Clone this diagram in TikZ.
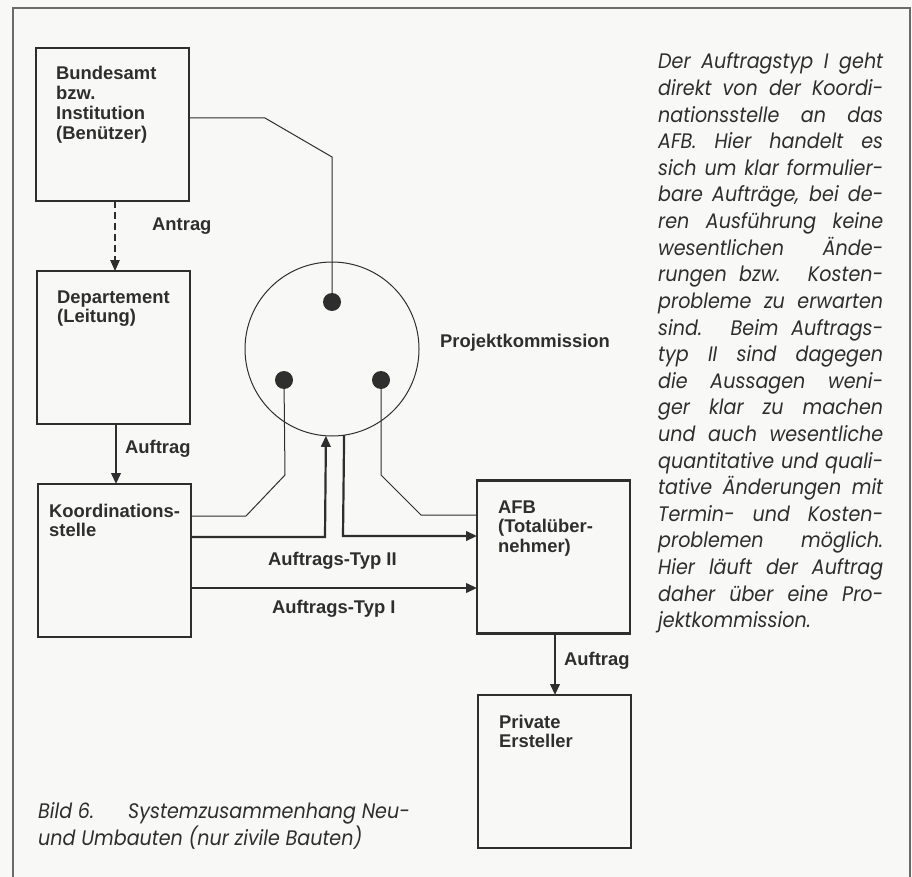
\documentclass[tikz,border=0pt]{standalone}
\usepackage{fontspec}
\setmainfont{Liberation Sans}
\newfontfamily\fut{Poppins}[FakeStretch=0.91]
\usetikzlibrary{arrows.meta}
\definecolor{ink}{HTML}{2E2E2E}
\definecolor{bg}{HTML}{F8F8F7}
\definecolor{frm}{HTML}{6A6A6A}
\begin{document}
\begin{tikzpicture}[x=1pt,y=-1pt,
  box/.style={draw=ink, line width=2.2pt, minimum width=153pt, minimum height=153pt, inner sep=0, outer sep=0},
  lbl/.style={anchor=base west, inner sep=0, text=ink, font=\bfseries\fontsize{18.4}{19.7}\selectfont},
  thinln/.style={draw=ink, line width=1pt},
  thickln/.style={draw=ink, line width=2.2pt},
  tip/.style={-{Triangle[length=11pt,width=9.5pt]}},
  dot/.style={circle, fill=ink, minimum size=18pt, inner sep=0},
  body/.style={anchor=base west, inner sep=0, text=ink, font=\fut\itshape\fontsize{21}{26.6}\selectfont}]
\useasboundingbox (0,0) rectangle (912,877);
\fill[bg] (0,0) rectangle (912,877);
\draw[frm, line width=1.2pt] (13,877) -- (13,8) -- (910,8) -- (910,877);

% boxes
\node[box] (bund) at (112.5,124.5) {};
\node[box] (dept) at (113.5,347.5) {};
\node[box] (koord) at (114.5,560.5) {};
\node[box] (afb) at (553.5,557) {};
\node[box] (priv) at (554.5,771.5) {};

% box texts
\node[lbl] (tbund) at (56,80) {\begin{tabular}[t]{@{}l@{}}Bundesamt\\bzw.\\Institution\\(Benützer)\end{tabular}};
\node[lbl] (tdept) at (57,303) {\begin{tabular}[t]{@{}l@{}}Departement\\(Leitung)\end{tabular}};
\node[lbl] (tkoord) at (49,517) {\begin{tabular}[t]{@{}l@{}}Koordinations-\\stelle\end{tabular}};
\node[lbl] (tafb) at (498,513) {\begin{tabular}[t]{@{}l@{}}AFB\\(Totalüber-\\nehmer)\end{tabular}};
\node[lbl] (tpriv) at (499,728) {\begin{tabular}[t]{@{}l@{}}Private\\Ersteller\end{tabular}};

% commission
\node[circle, draw=ink, line width=1pt, minimum size=174pt, inner sep=0, outer sep=0] (kom) at (332,349) {};
\node[dot] (d1) at (332,302) {};
\node[dot] (d2) at (284,380) {};
\node[dot] (d3) at (381,380) {};
\node[lbl] (tkom) at (440,347) {Projektkommission};

% labels
\node[lbl] (lantrag) at (152,231) {Antrag};
\node[lbl] (lauf1) at (125,453) {Auftrag};
\node[lbl] (lauf2) at (564,665) {Auftrag};
\node[lbl] (ltyp2) at (268,565) {Auftrags-Typ II};
\node[lbl] (ltyp1) at (272,613) {Auftrags-Typ I};

% connectors
\draw[ink, line width=1.2pt, dashed, dash pattern=on 7pt off 4pt, tip] (bund.south -| 115,0) -- (dept.north -| 115,0);
\draw[thickln, tip] (dept.south -| 116,0) -- (koord.north -| 116,0);
\draw[thickln, tip] (afb.south -| 555,0) -- (priv.north -| 555,0);
\draw[thinln] (bund.east |- 0,118) -- (265,118) -- (332,157) -- (d1);
\draw[thinln] (d2) -- (285,475) -- (246,516) -- (koord.east |- 0,516);
\draw[thinln] (d3) -- (381,475) -- (421,515) -- (afb.west |- 0,515);
\draw[thickln, tip] (koord.east |- 0,537) -- (325,537) -- (kom.-94.6);
\draw[thickln, tip] (kom.-82.7) -- (343,536) -- (afb.west |- 0,536);
\draw[thickln, tip] (koord.east |- 0,588) -- (afb.west |- 0,588);

% right column text
\foreach \l [count=\i] in {{Der Auftragstyp I geht},{direkt von der Koordi-},{nationsstelle an das},{AFB. Hier handelt es},{sich um klar formulier-},{bare Aufträge, bei de-},{ren Ausführung keine},{wesentlichen Ände-},{rungen bzw. Kosten-},{probleme zu erwarten},{sind. Beim Auftrags-},{typ II sind dagegen},{die Aussagen weni-},{ger klar zu machen},{und auch wesentliche},{quantitative und quali-},{tative Änderungen mit},{Termin- und Kosten-},{problemen möglich.},{Hier läuft der Auftrag},{daher über eine Pro-}}
  \node[body] (t\i) at (658,{69+26.6*(\i-1)}) {\makebox[225pt][s]{\l}};
\node[body] (t22) at (658,{69+26.6*21}) {jektkommission.};

% caption
\node[body] (cap1) at (38,818) {Bild 6.};
\node[body] (cap2) at (128,818) {Systemzusammenhang Neu-};
\node[body] (cap3) at (38,845) {und Umbauten (nur zivile Bauten)};
\end{tikzpicture}
\end{document}
